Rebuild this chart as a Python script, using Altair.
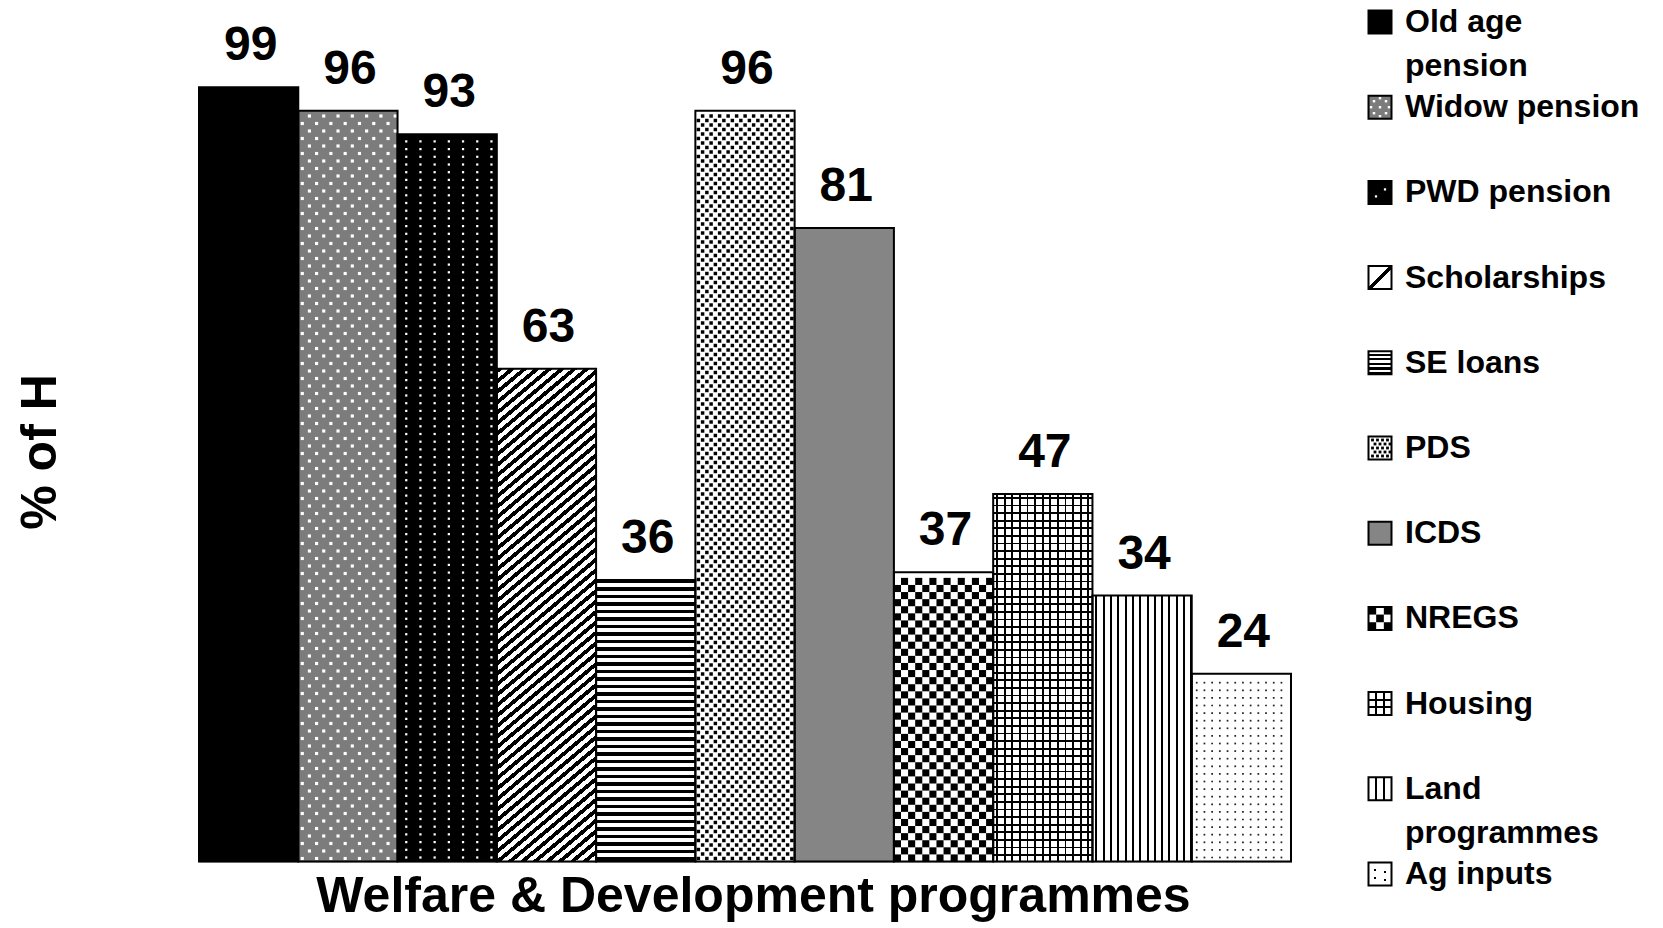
import math
import altair as alt
import pandas as pd

# ---------------- data ----------------
categories = ["Old age pension", "Widow pension", "PWD pension", "Scholarships", "SE loans",
              "PDS", "ICDS", "NREGS", "Housing", "Land programmes", "Ag inputs"]
values = [99, 96, 93, 63, 36, 96, 81, 37, 47, 34, 24]
legend_line1 = ["Old age", "Widow pension", "PWD pension", "Scholarships", "SE loans",
                "PDS", "ICDS", "NREGS", "Housing", "Land", "Ag inputs"]
legend_line2 = ["pension", "", "", "", "", "", "", "", "", "programmes", ""]
x_title = "Welfare & Development programmes"
y_title = "% of H"

# ---------------- layout / style ----------------
PLOT_W, PLOT_H = 1092, 782
Y_MAX = 100
N = len(categories)
PX_X = PLOT_W / N
PX_Y = PLOT_H / Y_MAX
FONT = "Liberation Sans"
INK, PAPER, CLEAR = "#000000", "#ffffff", "rgba(0,0,0,0)"


def stops_for(total, period, thick, ink, paper, phase=0.0):
    st = [{"offset": 0.0, "color": paper}]
    p = phase
    while p < total:
        a = round(max(p, 0.0) / total, 5)
        b = round(min(p + thick, total) / total, 5)
        st += [{"offset": a, "color": paper}, {"offset": a, "color": ink},
               {"offset": b, "color": ink}, {"offset": b, "color": paper}]
        p += period
    st.append({"offset": 1.0, "color": paper})
    return st


def hstripes(h, period, thick, ink=INK, paper=PAPER, phase=0.0):
    return {"gradient": "linear", "x1": 0, "y1": 0, "x2": 0, "y2": 1,
            "stops": stops_for(h, period, thick, ink, paper, phase)}


def vstripes(w, period, thick, ink=INK, paper=PAPER, phase=0.0):
    return {"gradient": "linear", "x1": 0, "y1": 0, "x2": 1, "y2": 0,
            "stops": stops_for(w, period, thick, ink, paper, phase)}


def diag(w, h, period, thick, angle, ink=INK, paper=PAPER, phase=0.0):
    s, c = math.sin(math.radians(angle)), math.cos(math.radians(angle))
    L = w * s + h * c
    k = L / (w * w * s * s + h * h * c * c)
    return {"gradient": "linear", "x1": 0, "y1": 0, "x2": round(k * w * s, 6), "y2": round(k * h * c, 6),
            "stops": stops_for(L, period, thick, ink, paper, phase)}


def bar_h(i):
    return values[i] * PX_Y


bar_fill = [
    INK,
    "#7c7c7c",
    INK,
    diag(PX_X, bar_h(3), 8.0, 3.8, 40),
    hstripes(bar_h(4), 7.5, 3.4),
    PAPER,
    "#858585",
    PAPER,
    PAPER,
    vstripes(PX_X, 7.3, 2.0, phase=3.0),
    PAPER,
]

# texture dots (derived from the bar values, placed through the scales)
dots = []


def lattice(i, dx, dy, x0, y0, stagger, size, color, margin=2.0):
    H = bar_h(i)
    r = 0
    y = y0
    while y <= H - margin:
        x = x0 + (dx / 2 if (stagger and r % 2 == 1) else 0)
        while x <= PX_X - margin:
            dots.append({"px": i + x / PX_X, "py": y / PX_Y, "sz": size, "col": color})
            x += dx
        y += dy
        r += 1


lattice(1, 14.3, 7.5, 4.0, 3.0, True, 10, PAPER)
lattice(2, 14.2, 7.7, 8.7, 4.0, False, 5, PAPER)
lattice(5, 8.5, 4.5, 3.0, 3.0, True, 12, INK)
lattice(10, 7.7, 7.6, 5.0, 4.0, False, 3, "#222222")
cw = PX_X / 14
for r in range(int(bar_h(7) // cw)):
    for c in range(14):
        if (r + c) % 2 == 0:
            dots.append({"px": 7 + (c + 0.5) * cw / PX_X, "py": (r + 0.5) * cw / PX_Y,
                         "sz": cw * cw, "col": INK})
dots_df = pd.DataFrame(dots)

bars = pd.DataFrame({"cat": categories, "value": values, "i": list(range(N))})
bars["x0"] = bars["i"]
bars["x1"] = bars["i"] + 1
bars["xc"] = bars["i"] + 0.5
bars["y0"] = 0

AX_X = alt.Axis(title=x_title, labels=False, ticks=False, domain=True, domainColor="#999999",
                domainWidth=1, grid=False, titleFont=FONT, titleFontSize=50, titleFontWeight="bold",
                titleColor="black", titlePadding=50, titleBaseline="alphabetic", titleX=554)
AX_Y = alt.Axis(title=y_title, labels=False, ticks=False, domain=False, grid=False, orient="left",
                titleFont=FONT, titleFontSize=50, titleFontWeight="bold", titleColor="black",
                titlePadding=144, titleBaseline="alphabetic", titleY=372)
XS = alt.Scale(domain=[0, N], nice=False, zero=False)
YS = alt.Scale(domain=[0, Y_MAX], nice=False)

layers = []
for i in range(N):
    layers.append(
        alt.Chart(bars).transform_filter(alt.datum.i == i).mark_rect(fill=bar_fill[i]).encode(
            x=alt.X("x0:Q", scale=XS, axis=AX_X), x2="x1",
            y=alt.Y("y0:Q", scale=YS, axis=AX_Y), y2="value")
    )

# housing grid overlays
for g in [vstripes(PX_X, 7.6, 1.8, INK, CLEAR, 3.0), hstripes(bar_h(8), 7.6, 1.8, INK, CLEAR, 3.0)]:
    layers.append(
        alt.Chart(bars).transform_filter(alt.datum.i == 8).mark_rect(fill=g).encode(
            x=alt.X("x0:Q", scale=XS, axis=AX_X), x2="x1",
            y=alt.Y("y0:Q", scale=YS, axis=AX_Y), y2="value")
    )

layers.append(
    alt.Chart(dots_df).mark_square(opacity=1, strokeWidth=0).encode(
        x=alt.X("px:Q", scale=XS, axis=AX_X),
        y=alt.Y("py:Q", scale=YS, axis=AX_Y),
        size=alt.Size("sz:Q", scale=None, legend=None),
        color=alt.Color("col:N", scale=None, legend=None))
)

layers.append(
    alt.Chart(bars).mark_rect(fillOpacity=0, stroke="black", strokeWidth=2).encode(
        x=alt.X("x0:Q", scale=XS, axis=AX_X), x2="x1",
        y=alt.Y("y0:Q", scale=YS, axis=AX_Y), y2="value")
)

layers.append(
    alt.Chart(bars).mark_text(font=FONT, fontSize=48, fontWeight="bold", baseline="alphabetic",
                              dy=-27, dx=2, color="black").encode(
        x=alt.X("xc:Q", scale=XS, axis=AX_X),
        y=alt.Y("value:Q", scale=YS, axis=AX_Y),
        text="value:Q")
)

main = alt.layer(*layers)

# ---------------- legend ----------------
leg = pd.DataFrame({"lid": list(range(N)), "line1": legend_line1, "line2": legend_line2})
LY = alt.Y("lid:O", scale=alt.Scale(type="point", range=[22 - 79.5, 874 - 79.5], padding=0), axis=None)
SW = 23
SX = 1181
TX = 1206

leg_fill = [
    INK, "#7c7c7c", INK,
    diag(SW, SW, 100, 3.6, 45, phase=(SW * math.sqrt(2)) / 2 - 1.8),
    hstripes(SW, 4.6, 2.3, phase=2.3),
    PAPER, "#858585", PAPER, PAPER,
    vstripes(SW, 7.67, 2.0, phase=6.7),
    PAPER,
]
# small texture marks inside legend swatches: (legend id, x shift, y shift, area, colour)
cell = SW / 3
leg_tex = []
for (a, b) in [(-1, -1), (1, -1), (0, 0), (-1, 1), (1, 1)]:
    leg_tex.append((7, a * cell, b * cell, cell * cell, INK))
for (a, b) in [(-6, -6), (6, -6), (0, 0), (-6, 6), (6, 6), (0, -9), (0, 9), (-9, 0), (9, 0)]:
    leg_tex.append((1, a, b, 6, PAPER))
for (a, b) in [(-4, 4), (5, -3)]:
    leg_tex.append((2, a, b, 5, PAPER))
for (a, b) in [(-5, -4), (-5, 4), (5, -2), (5, 6)]:
    leg_tex.append((10, a, b, 4, INK))
for r in range(5):
    for c in range(4):
        leg_tex.append((5, -7.5 + c * 5 + (2.5 if r % 2 else 0), -8 + r * 4, 8, INK))

leg_layers = []
for i in range(N):
    leg_layers.append(
        alt.Chart(leg).transform_filter(alt.datum.lid == i).mark_square(
            size=SW * SW, fill=leg_fill[i], opacity=1, strokeWidth=0).encode(x=alt.value(SX), y=LY)
    )
for g in [vstripes(SW, 7.67, 2.0, INK, CLEAR, 6.7), hstripes(SW, 7.67, 2.0, INK, CLEAR, 6.7)]:
    leg_layers.append(
        alt.Chart(leg).transform_filter(alt.datum.lid == 8).mark_square(
            size=SW * SW, fill=g, opacity=1, strokeWidth=0).encode(x=alt.value(SX), y=LY)
    )
for (lid, ox, oy, area, col) in leg_tex:
    leg_layers.append(
        alt.Chart(leg).transform_filter(alt.datum.lid == lid).mark_square(
            size=area, fill=col, opacity=1, strokeWidth=0, xOffset=ox, yOffset=oy).encode(
            x=alt.value(SX), y=LY)
    )
leg_layers.append(
    alt.Chart(leg).mark_square(size=SW * SW, filled=False, stroke="black", strokeWidth=2,
                               opacity=1).encode(x=alt.value(SX), y=LY)
)
leg_layers.append(
    alt.Chart(leg).mark_text(font=FONT, fontSize=32, fontWeight="bold", align="left",
                             baseline="middle", color="black").encode(
        x=alt.value(TX), y=LY, text="line1:N")
)
leg_layers.append(
    alt.Chart(leg).transform_filter(alt.datum.line2 != "").mark_text(
        font=FONT, fontSize=32, fontWeight="bold", align="left", baseline="middle",
        dy=44, color="black").encode(x=alt.value(TX), y=LY, text="line2:N")
)
legend = alt.layer(*leg_layers)

chart = alt.layer(main, legend).resolve_scale(y="independent").properties(
    width=PLOT_W, height=PLOT_H,
    autosize=alt.AutoSizeParams(type="none"),
    padding={"left": 199, "top": 79.5, "right": 1663 - 199 - PLOT_W, "bottom": 928 - 79.5 - PLOT_H},
    background="white",
).configure_view(strokeWidth=0)

chart.save("out.html", embed_options={"renderer": "svg", "actions": False})
